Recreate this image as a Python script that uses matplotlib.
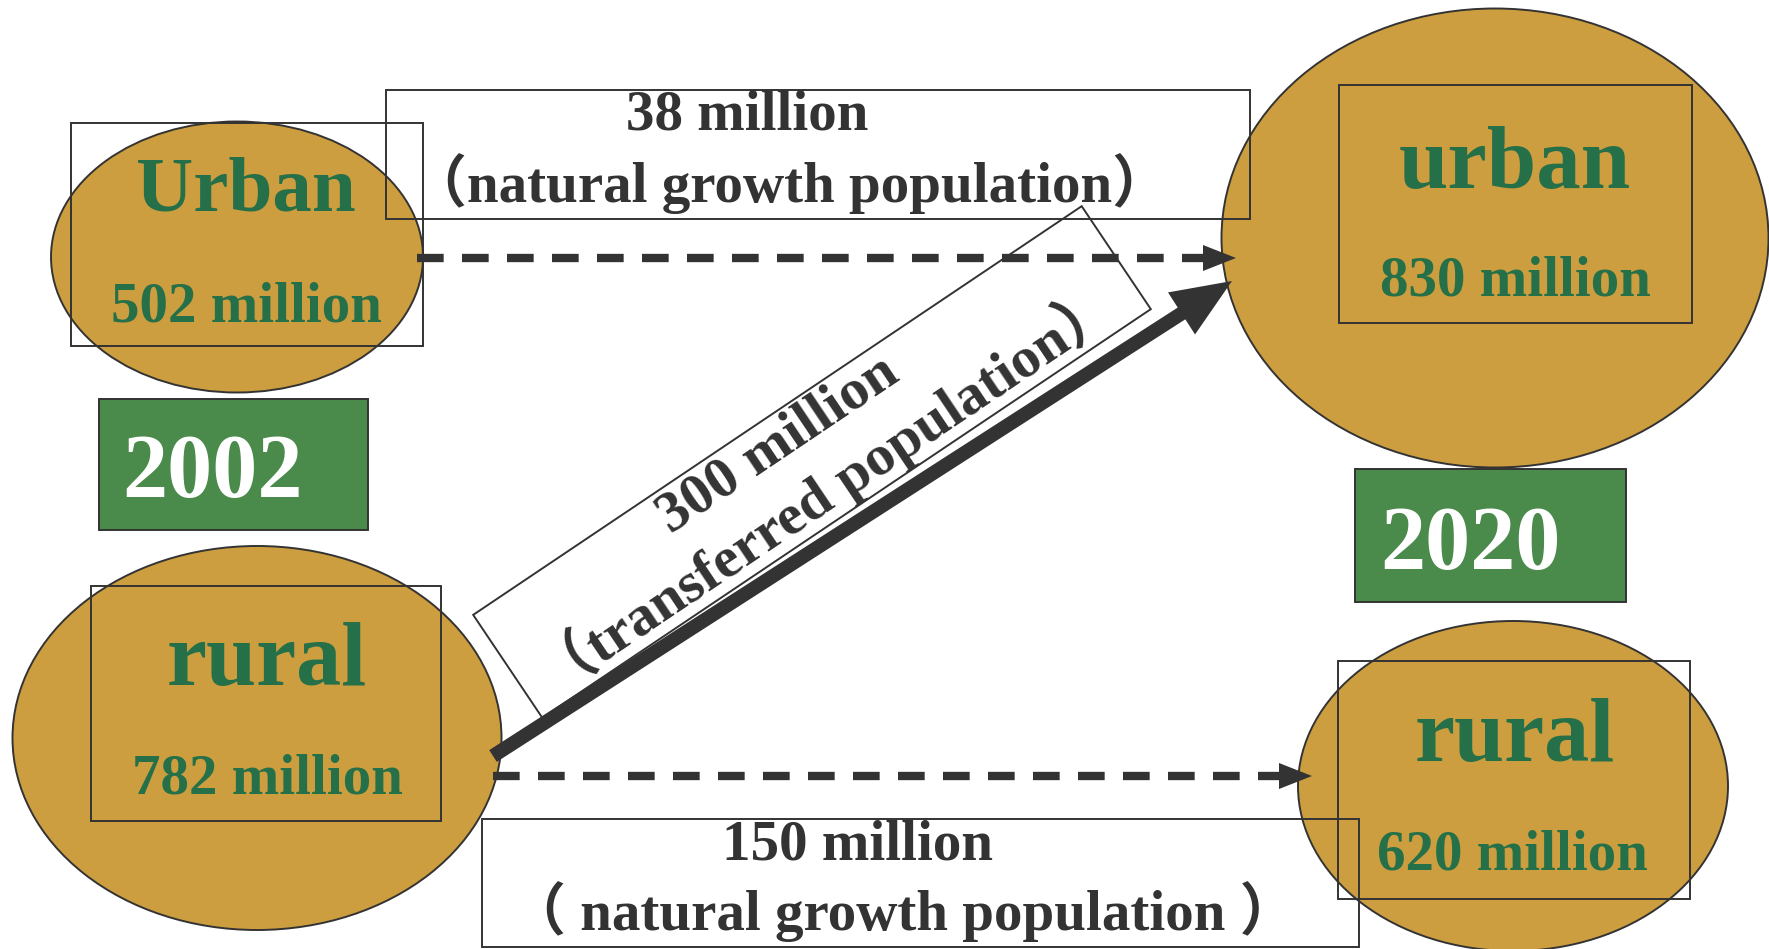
import numpy as np
import matplotlib
matplotlib.use("Agg")
import matplotlib.pyplot as plt
from matplotlib.patches import Ellipse, Rectangle, Polygon, FancyArrow

# population figures (million)
years = [2002, 2020]
urban_pop = [502, 830]
rural_pop = [782, 620]
urban_growth = 38
rural_growth = 150
transferred = 300

GOLD = "#CC9E3F"
GREEN_TXT = "#267049"
GREEN_BOX = "#4A8A4B"
DARK = "#333333"
FONT = ["Liberation Serif", "Noto Sans CJK SC", "DejaVu Sans"]

W, H = 1769, 949
fig = plt.figure(figsize=(W / 100, H / 100), dpi=100)
ax = fig.add_axes([0, 0, 1, 1])
ax.set_xlim(0, W)
ax.set_ylim(H, 0)
ax.set_aspect("equal")
ax.axis("off")


def txt(x, y, s, size, color=DARK, rot=0, ha="center"):
    ax.text(x, y, s, fontsize=size, color=color, family=FONT, weight="bold",
            ha=ha, va="center", rotation=rot, rotation_mode="anchor", zorder=6)


def box(x0, y0, x1, y1, face="none", lw=1.4):
    ax.add_patch(Rectangle((x0, y0), x1 - x0, y1 - y0, facecolor=face,
                           edgecolor=DARK, lw=lw, zorder=3))


def head(tip, direction, length, width):
    d = np.array(direction, float)
    d /= np.hypot(*d)
    n = np.array([-d[1], d[0]])
    tip = np.array(tip, float)
    base = tip - d * length
    ax.add_patch(Polygon([tip, base + n * width / 2, base - n * width / 2],
                         closed=True, facecolor=DARK, edgecolor="none", zorder=5))


# population bubbles
for cx, cy, w, h in [(237, 257, 372, 271), (257, 738, 489, 384),
                     (1495, 238, 547, 459), (1513, 786, 430, 330)]:
    ax.add_patch(Ellipse((cx, cy), w, h, facecolor=GOLD, edgecolor=DARK,
                         lw=1.4, zorder=1))

# text frames inside bubbles
box(71, 123, 423, 346)
box(91, 586, 441, 821)
box(1339, 85, 1692, 323)
box(1338, 661, 1690, 899)

# year tags
box(99, 399, 368, 530, face=GREEN_BOX)
box(1355, 469, 1626, 602, face=GREEN_BOX)
txt(212, 475, str(years[0]), 65, color="white")
txt(1471, 547, str(years[1]), 65, color="white")

# bubble labels
txt(246, 192, "Urban", 57, GREEN_TXT)
txt(246, 307, f"{urban_pop[0]} million", 41, GREEN_TXT)
txt(267, 663, "rural", 65, GREEN_TXT)
txt(267, 780, f"{rural_pop[0]} million", 41, GREEN_TXT)
txt(1515, 166, "urban", 64, GREEN_TXT)
txt(1515, 282, f"{urban_pop[1]} million", 41, GREEN_TXT)
txt(1515, 739, "rural", 65, GREEN_TXT)
txt(1512, 856, f"{rural_pop[1]} million", 41, GREEN_TXT)

# natural growth: urban -> urban
box(386, 90, 1250, 219)
ax.plot([417, 1210], [258, 258], color=DARK, lw=6, ls=(0, (3.2, 2.2)),
        solid_capstyle="butt", zorder=4)
head((1236, 258), (1, 0), 33, 26)
txt(747, 115, f"{urban_growth} million", 41)
txt(790, 184, "（natural growth population）", 41)

# natural growth: rural -> rural
box(482, 819, 1359, 947)
ax.plot([493, 1286], [776, 776], color=DARK, lw=6, ls=(0, (3.2, 2.2)),
        solid_capstyle="butt", zorder=4)
head((1312, 776), (1, 0), 33, 26)
txt(857, 845, f"{rural_growth} million", 41)
txt(903, 912, "（ natural growth population ）", 41)

# transferred population: rural -> urban
start = np.array([493, 756])
tip = np.array([1232, 281])
d = tip - start
ax.add_patch(FancyArrow(start[0], start[1], d[0], d[1], width=14,
                        head_width=50, head_length=60,
                        length_includes_head=True, facecolor=DARK,
                        edgecolor="none", zorder=5))

ang = np.degrees(np.arctan2(409, 609))
c = np.array([812, 462])
u = np.array([np.cos(np.radians(ang)), -np.sin(np.radians(ang))])
n = np.array([u[1] * -1, u[0]]) * -1
L, Wd = 733, 124
corners = [c - u * L / 2 - n * Wd / 2, c + u * L / 2 - n * Wd / 2,
           c + u * L / 2 + n * Wd / 2, c - u * L / 2 + n * Wd / 2]
ax.add_patch(Polygon(corners, closed=True, facecolor="none", edgecolor=DARK,
                     lw=1.4, zorder=3))
txt(778, 445, f"{transferred} million", 42, rot=ang)
txt(826, 490, "（transferred population）", 42, rot=ang)

fig.savefig("out.png", dpi=100)
